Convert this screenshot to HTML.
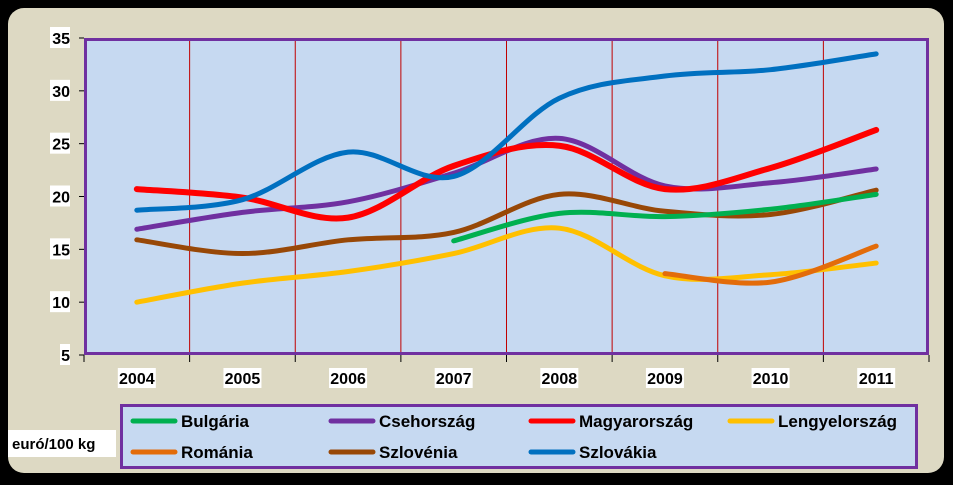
<!DOCTYPE html>
<html><head><meta charset="utf-8"><style>
body{margin:0;background:#000;width:953px;height:480px;overflow:hidden;font-family:"Liberation Sans",sans-serif}
</style></head><body>
<svg width="953" height="480" xmlns="http://www.w3.org/2000/svg" font-family="Liberation Sans, sans-serif" font-weight="bold">
<rect x="8" y="8" width="936" height="465" rx="16" fill="#ddd9c3"/>
<rect x="84" y="38" width="845" height="317" fill="#c6d9f1"/>
<g id="grid"></g>
<g id="axes"></g>
<g id="series"></g>
<rect x="85.5" y="39.5" width="842" height="314" fill="none" stroke="#7030a0" stroke-width="3"/>
<rect x="8" y="430" width="108" height="27" fill="#fff"/>
<text x="12" y="449" font-size="15">euró/100 kg</text>
<g>
<rect x="121.5" y="405.5" width="795" height="62" fill="#c6d9f1" stroke="#7030a0" stroke-width="3"/>
<g id="legend"></g>
</g>
</svg>
<script>
const years=["2004","2005","2006","2007","2008","2009","2010","2011"];
const yTicks=[5,10,15,20,25,30,35];
const names=["Bulgária","Csehország","Magyarország","Lengyelország","Románia","Szlovénia","Szlovákia"];
const colors=["#00b050","#7030a0","#ff0000","#ffc000","#e36c0a","#984807","#0070c0"];
const bulgaria=[null,null,null,15.8,18.4,18.1,18.8,20.2];
const cseh=[16.9,18.5,19.5,22.2,25.5,21.0,21.3,22.6];
const magyar=[20.7,19.9,18.0,22.9,24.8,20.7,22.7,26.3];
const lengyel=[10.0,11.8,12.9,14.6,17.0,12.5,12.6,13.7];
const romania=[null,null,null,null,null,12.7,11.9,15.3];
const szlovenia=[15.9,14.6,15.9,16.6,20.2,18.6,18.3,20.6];
const szlovakia=[18.7,19.7,24.2,21.9,29.3,31.4,32.0,33.5];
const seriesData=[bulgaria,cseh,magyar,lengyel,romania,szlovenia,szlovakia];
const drawOrder=[3,4,5,0,1,2,6];
const NS="http://www.w3.org/2000/svg";
const L=84,R=929,T=38,B=355,yMin=5,yMax=35;
const bw=(R-L)/years.length;
const xPos=i=>L+bw*(i+0.5);
const yPos=v=>B-(v-yMin)/(yMax-yMin)*(B-T);
function mk(tag,attrs,parent){const e=document.createElementNS(NS,tag);for(const k in attrs)e.setAttribute(k,attrs[k]);parent.appendChild(e);return e;}
const grid=document.getElementById('grid'),axes=document.getElementById('axes');
for(let i=1;i<years.length;i++){
 const x=L+bw*i;
 const g=mk('line',{x1:x,x2:x,y1:T,y2:B,stroke:'#c00000','stroke-width':1},grid);
 
 
}
for(let i=0;i<=years.length;i++){
 const x=L+bw*i;
 const t=mk('line',{x1:x,x2:x,y1:B,y2:B+7,stroke:'#000','stroke-width':1},axes);
 
 
}
years.forEach((y,i)=>{
 const bg=mk('rect',{x:xPos(i)-19,y:368,width:38,height:20,fill:'#fff'},axes);
 
 
 const t=mk('text',{x:xPos(i),y:384,'text-anchor':'middle','font-size':16},axes);
 t.textContent=y;
 
 
});
yTicks.forEach(v=>{
 const y=yPos(v);
 const t=mk('line',{x1:79,x2:84,y1:y,y2:y,stroke:'#000','stroke-width':1},axes);
 
 
 const w=v>=10?20:10;
 const bg=mk('rect',{x:70-w,y:y-11,width:w,height:21,fill:'#fff'},axes);
 
 
 const tx=mk('text',{x:70,y:y+6,'text-anchor':'end','font-size':16},axes);
 tx.textContent=v;
 
 
});
const sg=document.getElementById('series');
drawOrder.forEach(s=>{
 const pts=[];seriesData[s].forEach((v,i)=>{if(v!=null)pts.push([xPos(i),yPos(v)]);});
 let d=`M${pts[0][0]},${pts[0][1]}`;
 for(let i=0;i<pts.length-1;i++){
  const p0=pts[Math.max(i-1,0)],p1=pts[i],p2=pts[i+1],p3=pts[Math.min(i+2,pts.length-1)];
  const k=1/6;
  d+=` C${p1[0]+(p2[0]-p0[0])*k},${p1[1]+(p2[1]-p0[1])*k} ${p2[0]-(p3[0]-p1[0])*k},${p2[1]-(p3[1]-p1[1])*k} ${p2[0]},${p2[1]}`;
 }
 const p=mk('path',{d:d,fill:'none',stroke:colors[s],'stroke-width':s===2?6:5,'stroke-linecap':'round'},sg);
 
 
});
const lg=document.getElementById('legend');
const colX=[133,331,531,730];
names.forEach((n,i)=>{
 const x=colX[i%4],y=i<4?421:452;
 const g=mk('g',{},lg);
 
 
 mk('line',{x1:x,x2:x+42,y1:y,y2:y,stroke:colors[i],'stroke-width':5,'stroke-linecap':'round'},g);
 const t=mk('text',{x:x+48,y:y+6,'font-size':17},g);
 t.textContent=n;
});
</script>
</body></html>
